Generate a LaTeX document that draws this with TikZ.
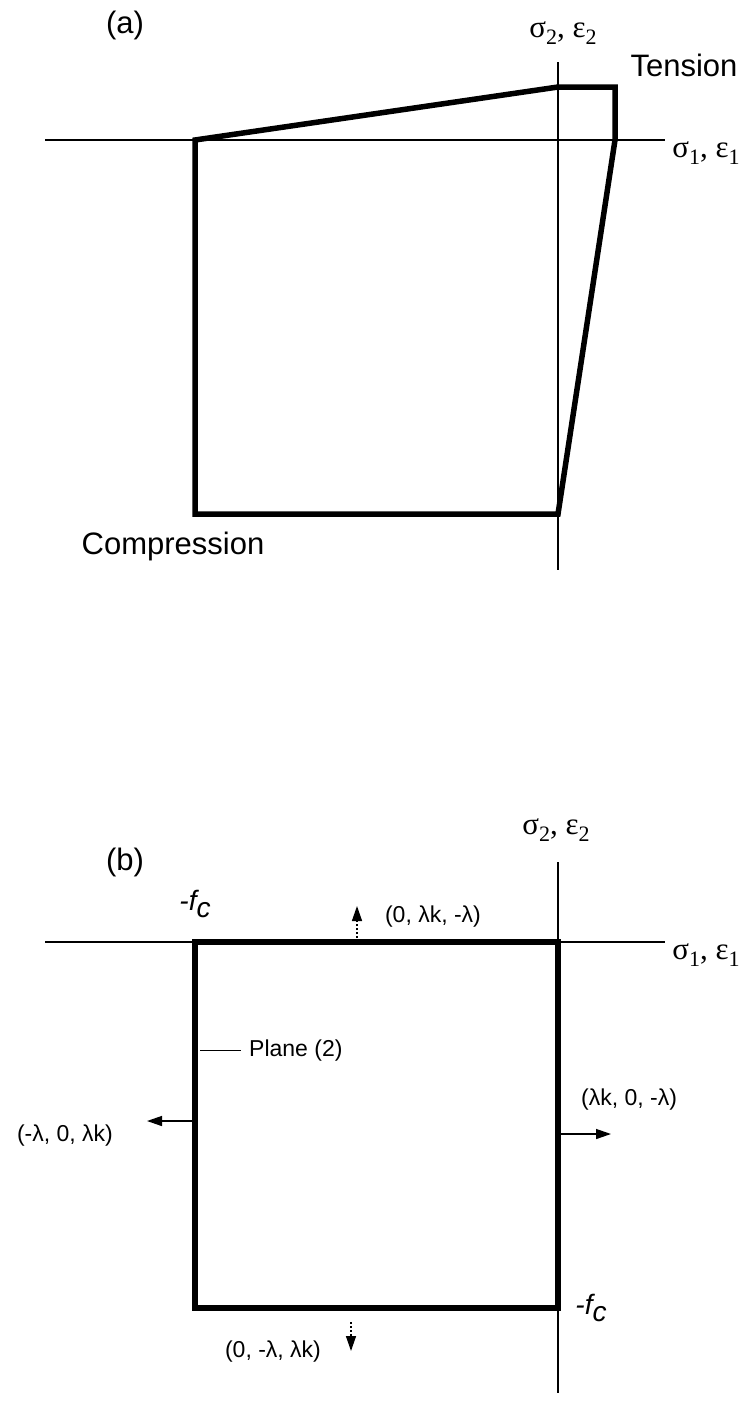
\documentclass[tikz,border=0pt]{standalone}
\usepackage{fontspec}
\setmainfont{Liberation Sans}
\newfontfamily\grk{Liberation Serif}
\usetikzlibrary{arrows.meta}
\tikzset{
 axisline/.style={line width=2.5pt},
 envelope/.style={line width=5.5pt, line join=miter},
 biglabel/.style={font=\fontsize{31}{36}\selectfont, inner sep=0pt},
 axlabel/.style={font=\grk\fontsize{31}{34}\selectfont, inner sep=0pt},
 smalllabel/.style={font=\fontsize{23}{27}\selectfont, inner sep=0pt},
 fclabel/.style={font=\fontsize{28}{30}\selectfont\itshape, inner sep=0pt},
 leader/.style={line width=1pt},
 flow/.style={line width=1.4pt, -{Triangle[length=15pt,width=10pt]}},
 flowdash/.style={flow, dash pattern=on 2pt off 2pt},
}
\newcommand{\lowsub}[1]{\raisebox{-0.25em}{\fontsize{22}{24}\selectfont #1}}
\begin{document}
\begin{tikzpicture}[x=1pt,y=-1pt]
\useasboundingbox (0,0) rectangle (747,1403);
% ---------- (a) ----------
\coordinate (ha1) at (45,140);
\coordinate (ha2) at (665,140);
\coordinate (va1) at (558,62);
\coordinate (va2) at (558,570);
\draw[axisline] (ha1) -- (ha2);
\draw[axisline] (va1) -- (va2);
\coordinate (A1) at (195,140);
\coordinate (A2) at (558,87);
\coordinate (A3) at (615,87);
\coordinate (A4) at (615,140);
\coordinate (A5) at (558,514);
\coordinate (A6) at (195,514);
\draw[envelope] (A1) -- (A2) -- (A3) -- (A4) -- (A5) -- (A6) -- cycle;
\node[biglabel] (la) at (125,25) {(a)};
\node[axlabel] (s2a) at (563,33) {σ\lowsub{2}, ε\lowsub{2}};
\node[biglabel] (tens) at (684,65) {Tension};
\node[axlabel] (s1a) at (706,153) {σ\lowsub{1}, ε\lowsub{1}};
\node[biglabel] (comp) at (173,546) {Compression};
% ---------- (b) ----------
\coordinate (hb1) at (45,942);
\coordinate (hb2) at (665,942);
\coordinate (vb1) at (558,862);
\coordinate (vb2) at (558,1393);
\draw[axisline] (hb1) -- (hb2);
\draw[axisline] (vb1) -- (vb2);
\coordinate (B1) at (195,942);
\coordinate (B2) at (558,942);
\coordinate (B3) at (558,1308);
\coordinate (B4) at (195,1308);
\draw[envelope] (B1) -- (B2) -- (B3) -- (B4) -- cycle;
\node[biglabel] (lb) at (125,862) {(b)};
\node[axlabel] (s2b) at (556,830) {σ\lowsub{2}, ε\lowsub{2}};
\node[axlabel] (s1b) at (706,955) {σ\lowsub{1}, ε\lowsub{1}};
\node[fclabel] (fc1) at (195,904) {-f\raisebox{-0.25em}{c}};
\node[fclabel] (fc2) at (591,1308) {-f\raisebox{-0.25em}{c}};
% top arrow
\coordinate (upS) at (357,942);
\coordinate (upE) at (357,906);
\draw[flowdash] (upS) -- (upE);
\node[smalllabel] (lup) at (433,917) {(0, λk, -λ)};
% plane (2)
\coordinate (plS) at (200,1050);
\coordinate (plE) at (241,1050);
\draw[leader] (plS) -- (plE);
\node[smalllabel, anchor=west] (pl) at (249,1051) {Plane (2)};
% left arrow
\coordinate (lfS) at (195,1121);
\coordinate (lfE) at (147,1121);
\draw[flow] (lfS) -- (lfE);
\node[smalllabel] (llf) at (65,1136) {(-λ, 0, λk)};
% right arrow
\coordinate (rtS) at (558,1134);
\coordinate (rtE) at (611,1134);
\draw[flow] (rtS) -- (rtE);
\node[smalllabel] (lrt) at (629,1100) {(λk, 0, -λ)};
% bottom arrow
\coordinate (dnS) at (351,1322);
\coordinate (dnE) at (351,1351);
\draw[flowdash] (dnS) -- (dnE);
\node[smalllabel] (ldn) at (273,1352) {(0, -λ, λk)};
\end{tikzpicture}
\end{document}
